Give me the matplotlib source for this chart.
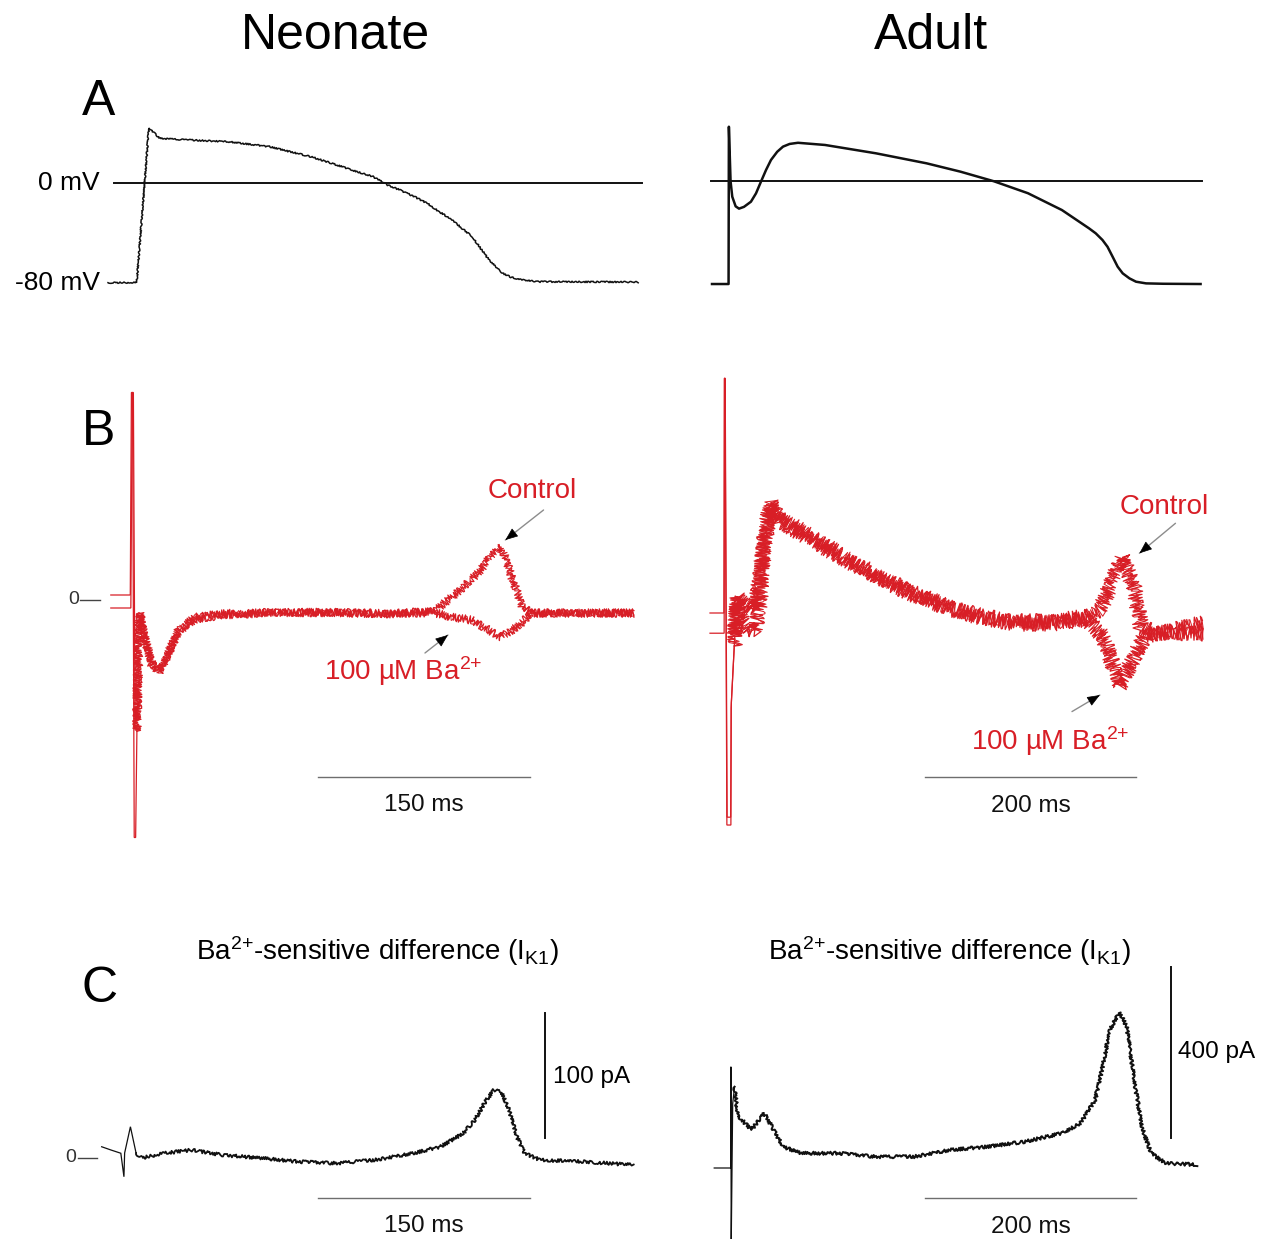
#!/usr/bin/env python3
"""Neonate vs adult ventricular myocytes: AP (A), AP-clamp currents with/without
Ba2+ (B) and the Ba2+-sensitive difference current IK1 (C). Saves out.png."""
import matplotlib
matplotlib.use("Agg")
import matplotlib.pyplot as plt

W, H = 1273, 1239          # output size, px (dpi 100)

RED = "#d81e26"
INK = "#111111"
BAR = "#6e6e6e"
ARROW = "#8c8c8c"

# --- A: action potentials (ms, mV) ---
NEO_AP_T = [0, 20.4, 29.0, 36.9, 55.7, 85.1, 114.5, 129.2, 144.0, 158.6, 173.0, 188.0,
            198.3, 205.7, 217.4, 226.3, 235.0, 243.9, 252.5, 258.6, 261.6, 266.0, 270.2,
            274.8, 279.2, 285.0, 290.8, 305.7, 376.0]
NEO_AP_V = [-80, -80, 44.3, 36.2, 34.9, 33.5, 29.5, 25.4, 21.4, 16.1, 10.7, 5.3,
            -1.4, -4.8, -10.8, -16.1, -22.9, -29.5, -37.6, -43.0, -48.3, -55.0, -61.7,
            -67.1, -71.9, -75.2, -77.3, -79.2, -79.5]
ADU_AP_T = [1.9, 17.6, 17.9, 19.5, 21.1, 24.3, 27.5, 32.2, 38.8, 43.6,
            48.3, 53.1, 57.8, 63.7, 69.2, 75.5, 83.4, 109.0, 157.3, 205.3,
            237.4, 269.2, 301.4, 333.6, 359.2, 365.6, 372.0, 376.8, 381.6, 386.4,
            391.2, 397.6, 403.8, 413.3, 429.4, 465.0]
ADU_AP_V = [-80, -80, 42.5, 0, -12, -19.5, -21.3, -19.9, -15.9, -9.4,
            -0.3, 8.8, 16.6, 23, 27, 29.1, 30, 28.3, 21.8, 14,
            7.5, 0, -9.3, -22.4, -36.6, -40.5, -45.7, -51, -58.7, -66.5,
            -71.7, -75.6, -78.2, -79.5, -79.8, -80]
NEO_ZERO_SPAN = [4.3, 378.7]
ADU_ZERO_SPAN = [0.9, 466.4]

# --- B: currents during AP clamp, control and 100 uM Ba2+ (ms, pA) ---
NEO_CTRL_T = [2, 15.8, 16.6, 17.4, 18.6, 19.6, 20.5, 22.5, 26, 31, 36.2, 42, 50, 61.7,
              80, 120, 160, 200, 231, 244, 257.4, 265, 271, 279, 283, 287, 294, 300,
              340, 373]
NEO_CTRL_I = [4, 4, 166, 166, -190, -190, -105, -10, -30, -50, -58, -45, -25, -16,
              -12, -10, -10, -11, -9, 2.4, 16, 25, 34.4, 42.4, 30, 16, -5.6, -10.4,
              -10.4, -10.4]
NEO_BA_T = [2, 16.2, 17.2, 18.0, 19.2, 20.2, 21.5, 23, 27, 31, 36.2, 42, 50, 61.7, 80,
            120, 160, 200, 231, 244, 257.4, 270, 279, 290, 301, 340, 373]
NEO_BA_I = [-6.4, -6.4, 166, 166, -104, -104, -20, -12, -35, -52, -56, -44, -24, -14,
            -11, -10, -10, -11, -10, -13.6, -16, -24, -29.6, -21.6, -10.4, -10.4, -10.4]
ADU_CTRL_T = [0, 13.2, 13.6, 14.2, 16.0, 19.8, 20.2, 23.5, 26.7, 33.2, 43.0, 46.4, 51.2,
              57.8, 65.9, 95.3, 128.0, 160.6, 193.2, 225.9, 258.5, 291.0, 323.8, 356.4,
              369.5, 379.1, 390.5, 401.9, 408.5, 421.8, 467.3]
ADU_CTRL_I = [0, 0, 569, 569, -514, -514, -218, -57, 40, 24, 7, 64, 185,
              266, 233, 185, 136, 88, 48, 15, -9, -21, -21, -9,
              7, 64, 136, 64, -33, -49, -49]
ADU_BA_T = [0, 13.4, 13.8, 14.4, 16.2, 19.6, 20.0, 23.0, 26.0, 30.0, 36.0, 43.0, 47.0,
            51.2, 57.8, 65.9, 95.3, 128.0, 160.6, 193.2, 225.9, 258.5, 291.0, 323.8,
            356.4, 372.5, 385.8, 387.4, 398.9, 411.8, 467.3]
ADU_BA_I = [-49, -49, 569, 569, -495, -495, -230, -80, 20, -20, -40, -45, 20,
            170, 255, 225, 178, 130, 84, 44, 12, -12, -25, -25,
            -14, -57, -154, -179, -122, -57, -25]

# --- C: Ba2+-sensitive difference current (ms, pA) ---
NEO_IK1_T = [-4.5, 2.1, 9.1, 11.3, 11.8, 15.9, 19.9, 24.0, 40.3, 59.3, 80.9, 108.2,
             135.3, 162.4, 189.4, 216.7, 235.7, 252.0, 260.1, 268.3, 273.8, 279.1,
             284.4, 290.0, 295.5, 306.4, 338.9, 372.8]
NEO_IK1_I = [9, 6.4, 3.8, -15, 4, 25, 4, 0, 3.8, 6.4, 2.4, 0,
             -3, -4.2, -1.6, 3.8, 9, 19.8, 30.4, 46.4, 54.4, 53,
             38.4, 17, 3.8, -1.6, -3, -5.6]
ADU_IK1_T = [4, 18, 19.6, 19.8, 20.1, 21.5, 23.3, 26.2, 30.3, 39.1, 51.5, 58.6, 69.2,
             86.7, 122, 157.3, 193.5, 227.7, 263, 298.2, 333.4, 351, 365.1, 372.1,
             379.1, 388, 395, 402.1, 409.2, 418, 432, 462]
ADU_IK1_I = [0, 0, 0, 236, -180, 150, 189.5, 119.6, 111.9, 88.6, 127.5, 96.3, 49.7,
             34.3, 34.3, 26.3, 26.3, 42, 49.7, 61.3, 80.9, 104.2, 158.5, 236,
             321.7, 364.3, 329.4, 205, 96.3, 34.3, 11, 7.7]

# scale bars: (start ms, length ms) and current bars (ms position, pA from, pA length)
NEO_TIME_BAR = [149, 150]
ADU_TIME_BAR = [204, 200]
NEO_AMP_BAR = [309.6, 15.8, 100]
ADU_AMP_BAR = [436.7, 69, 400]

plt.rcParams.update({
    "font.family": ["Liberation Sans", "DejaVu Sans"],
    "mathtext.fontset": "custom",
    "mathtext.rm": "Liberation Sans",
    "mathtext.it": "Liberation Sans:italic",
    "mathtext.default": "regular",
})


def px_axes(fig, left, right, top, bottom, t0, px_ms, zero, px_unit):
    """Axes placed by pixel box; t0/zero are the pixel positions of t=0 and y=0."""
    ax = fig.add_axes([left / W, 1 - bottom / H, (right - left) / W, (bottom - top) / H])
    ax.set_xlim((left - t0) / px_ms, (right - t0) / px_ms)
    ax.set_ylim((zero - bottom) / px_unit, (zero - top) / px_unit)
    ax.axis("off")
    return ax


def trace(ax, t, y, color, lw, noise=None, clean_until=None, dense=False):
    """Recording trace; the part after clean_until gets a jittery sketch stroke.
    noise = (amplitude px, wiggle length px, randomness)."""
    k = 0
    if clean_until is not None:
        k = next(i for i, v in enumerate(t) if v >= clean_until)
        ax.plot(t[:k + 1], y[:k + 1], color=color, lw=0.9, solid_joinstyle="miter")
    line, = ax.plot(t[k:], y[k:], color=color, lw=lw, solid_joinstyle="round")
    if noise:
        line.set_sketch_params(*noise)
    if noise and dense:
        # second jittered stroke fills the band like a noisy recording does
        extra, = ax.plot(t[k:], y[k:], color=color, lw=lw * 0.8)
        extra.set_sketch_params(noise[0] * 0.85, noise[1] * 1.7, noise[2] + 2)


def time_bar(ax, bar, y, label_y):
    ax.plot([bar[0], bar[0] + bar[1]], [y, y], color=BAR, lw=1.0)
    ax.text(bar[0] + bar[1] / 2, label_y, f"{bar[1]} ms", ha="center", va="baseline",
            fontsize=17.5, color=INK)


def pointer(ax, tail, head, label, label_xy):
    ax.annotate("", xy=head, xytext=tail,
                arrowprops=dict(arrowstyle="-", color=ARROW, lw=1.0, shrinkA=0, shrinkB=0))
    (hx, hy), (tx, ty) = ax.transData.transform([head, tail])
    d = ((tx - hx) ** 2 + (ty - hy) ** 2) ** 0.5
    off = (8 * (tx - hx) / d, 8 * (ty - hy) / d)
    ax.annotate("", xy=head, xytext=off, textcoords="offset points",
                arrowprops=dict(arrowstyle="-|>,head_length=0.8,head_width=0.32",
                                color="black", lw=0.5, shrinkA=0, shrinkB=0))
    ax.text(*label_xy, label, ha="center", va="baseline", fontsize=20, color=RED)


fig = plt.figure(figsize=(W / 100, H / 100), dpi=100, facecolor="white")

# column headings and panel letters
fig.text(335 / W, 1 - 49 / H, "Neonate", ha="center", va="baseline", fontsize=36)
fig.text(931 / W, 1 - 49 / H, "Adult", ha="center", va="baseline", fontsize=36)
for letter, y in (("A", 115), ("B", 445), ("C", 1002)):
    fig.text(82 / W, 1 - y / H, letter, ha="left", va="baseline", fontsize=36)

# ---- A ----
axa_n = px_axes(fig, 60, 650, 105, 305, 108, 1.41, 183.3, 1.2425)
axa_n.plot(NEO_ZERO_SPAN, [0, 0], color=INK, lw=1.4)
trace(axa_n, NEO_AP_T, NEO_AP_V, INK, 1.1, noise=(0.7, 1.5, 5))
axa_n.text(-5.7, 0, "0 mV", ha="right", va="center", fontsize=19)
axa_n.text(-5.7, -80, "-80 mV", ha="right", va="center", fontsize=19)

axa_a = px_axes(fig, 690, 1273, 105, 305, 710, 1.055, 181.3, 1.284)
axa_a.plot(ADU_ZERO_SPAN, [0, 0], color=INK, lw=1.4)
trace(axa_a, ADU_AP_T, ADU_AP_V, INK, 1.8)

# ---- B ----
ba_label = r"100 µM $\mathrm{Ba}^{2{+}}$"
axb_n = px_axes(fig, 60, 650, 370, 860, 108, 1.41, 600, 1.25)
trace(axb_n, NEO_BA_T, NEO_BA_I, RED, 0.9, noise=(4.2, 1.5, 6), clean_until=20.2, dense=True)
trace(axb_n, NEO_CTRL_T, NEO_CTRL_I, RED, 0.9, noise=(4.2, 1.2, 5), clean_until=20.2,
      dense=True)
axb_n.plot([-19.9, -5.7], [0, 0], color="#444444", lw=1.0)
axb_n.text(-20.8, 0, "0", ha="right", va="center", fontsize=14, color="#333333")
time_bar(axb_n, NEO_TIME_BAR, -141.6, -168.8)
pointer(axb_n, (308.9, 72), (281.8, 48), "Control", (301.2, 81.4))
pointer(axb_n, (224.8, -42.4), (241.1, -28), ba_label, (209.2, -64))

axb_a = px_axes(fig, 690, 1273, 370, 860, 710, 1.055, 613, 0.4125)
trace(axb_a, ADU_BA_T, ADU_BA_I, RED, 0.9, noise=(8.0, 1.5, 6), clean_until=23.0, dense=True)
trace(axb_a, ADU_CTRL_T, ADU_CTRL_I, RED, 0.9, noise=(8.0, 1.2, 5), clean_until=23.5,
      dense=True)
time_bar(axb_a, ADU_TIME_BAR, -397.6, -481.7)
pointer(axb_a, (441.2, 217.5), (407.0, 144.7), "Control", (430.6, 240))
pointer(axb_a, (343.1, -239), (369.5, -199), ba_label, (322.0, -332))

# ---- C ----
title = r"$\mathrm{Ba}^{2{+}}$-sensitive difference ($\mathrm{I}_{\mathrm{K1}}$)"
axc_n = px_axes(fig, 60, 650, 960, 1239, 108, 1.41, 1158, 1.25)
trace(axc_n, NEO_IK1_T, NEO_IK1_I, INK, 1.3, noise=(1.6, 1.5, 5), clean_until=19.9)
axc_n.plot([-21.6, -8.0], [0, 0], color="#444444", lw=1.0)
axc_n.text(-22.6, 0, "0", ha="right", va="center", fontsize=14, color="#333333")
x, y0, amp = NEO_AMP_BAR
axc_n.plot([x, x], [y0, y0 + amp], color=INK, lw=1.4)
axc_n.text(x + 6, y0 + amp / 2 - 1, f"{amp} pA", ha="left", va="center", fontsize=17.5)
time_bar(axc_n, NEO_TIME_BAR, -32.2, -59.2)
fig.text(377 / W, 1 - 960 / H, title, ha="center", va="baseline", fontsize=20)

axc_a = px_axes(fig, 690, 1273, 960, 1239, 710, 1.055, 1168, 0.429)
trace(axc_a, ADU_IK1_T, ADU_IK1_I, INK, 1.4, noise=(1.6, 1.5, 5), clean_until=23.3)
x, y0, amp = ADU_AMP_BAR
axc_a.plot([x, x], [y0, y0 + amp], color=INK, lw=1.4)
axc_a.text(x + 7, y0 + amp / 2 + 1, f"{amp} pA", ha="left", va="center", fontsize=17.5)
time_bar(axc_a, ADU_TIME_BAR, -70.6, -151.5)
fig.text(949 / W, 1 - 960 / H, title, ha="center", va="baseline", fontsize=20)

fig.savefig("out.png", dpi=100, facecolor="white")
plt.close(fig)
